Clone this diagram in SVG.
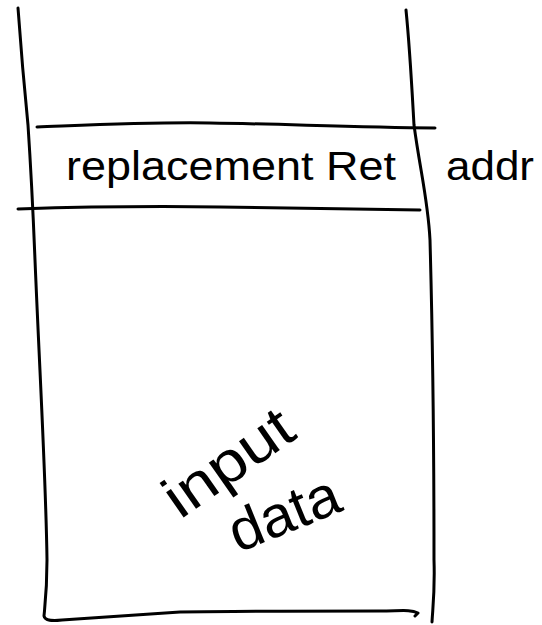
<svg xmlns="http://www.w3.org/2000/svg" width="542" height="625" viewBox="0 0 542 625">
  <style>
    .ink { fill: none; stroke: #000; stroke-width: 3; stroke-linecap: round; stroke-linejoin: round; }
    .hand { font-family: "Liberation Sans", "DejaVu Sans", sans-serif; fill: #000; }
  </style>
  <rect width="542" height="625" fill="#fff"/>

  <!-- stack frame outline -->
  <g id="stack">
    <path class="ink" d="M18,8 C21,50 25,95 28,125 C31,170 33,210 35,260 C40,380 46,480 47,560 C47,590 45,605 44,616 C45,621 52,621 62,620 C120,616 160,613 180,612 C240,611 320,611 380,611 C400,611 410,609 418,613 L415,616"/>
    <path class="ink" d="M406,10 C410,50 412,90 414,125 C420,170 428,200 430,240 C433,350 434,450 434,560 C435,590 433,605 432,622"/>
  </g>

  <!-- return address slot -->
  <g id="ret-slot">
    <path class="ink" d="M37,127 C90,125 150,122 210,123 C280,124 350,127 435,128"/>
    <path class="ink" d="M18,209 C80,207 150,206 220,207 C300,208 360,209 420,210"/>
    <text class="hand" x="66" y="180" font-size="40" textLength="330" lengthAdjust="spacingAndGlyphs">replacement Ret</text>
    <text class="hand" x="446" y="180" font-size="40" textLength="88" lengthAdjust="spacingAndGlyphs">addr</text>
  </g>

  <!-- input data region -->
  <g id="input-data">
    <text class="hand" font-size="58" textLength="145" lengthAdjust="spacingAndGlyphs" transform="translate(180,520) rotate(-35)">input</text>
    <text class="hand" font-size="58" textLength="115" lengthAdjust="spacingAndGlyphs" transform="translate(238,553) rotate(-22)">data</text>
  </g>
</svg>
